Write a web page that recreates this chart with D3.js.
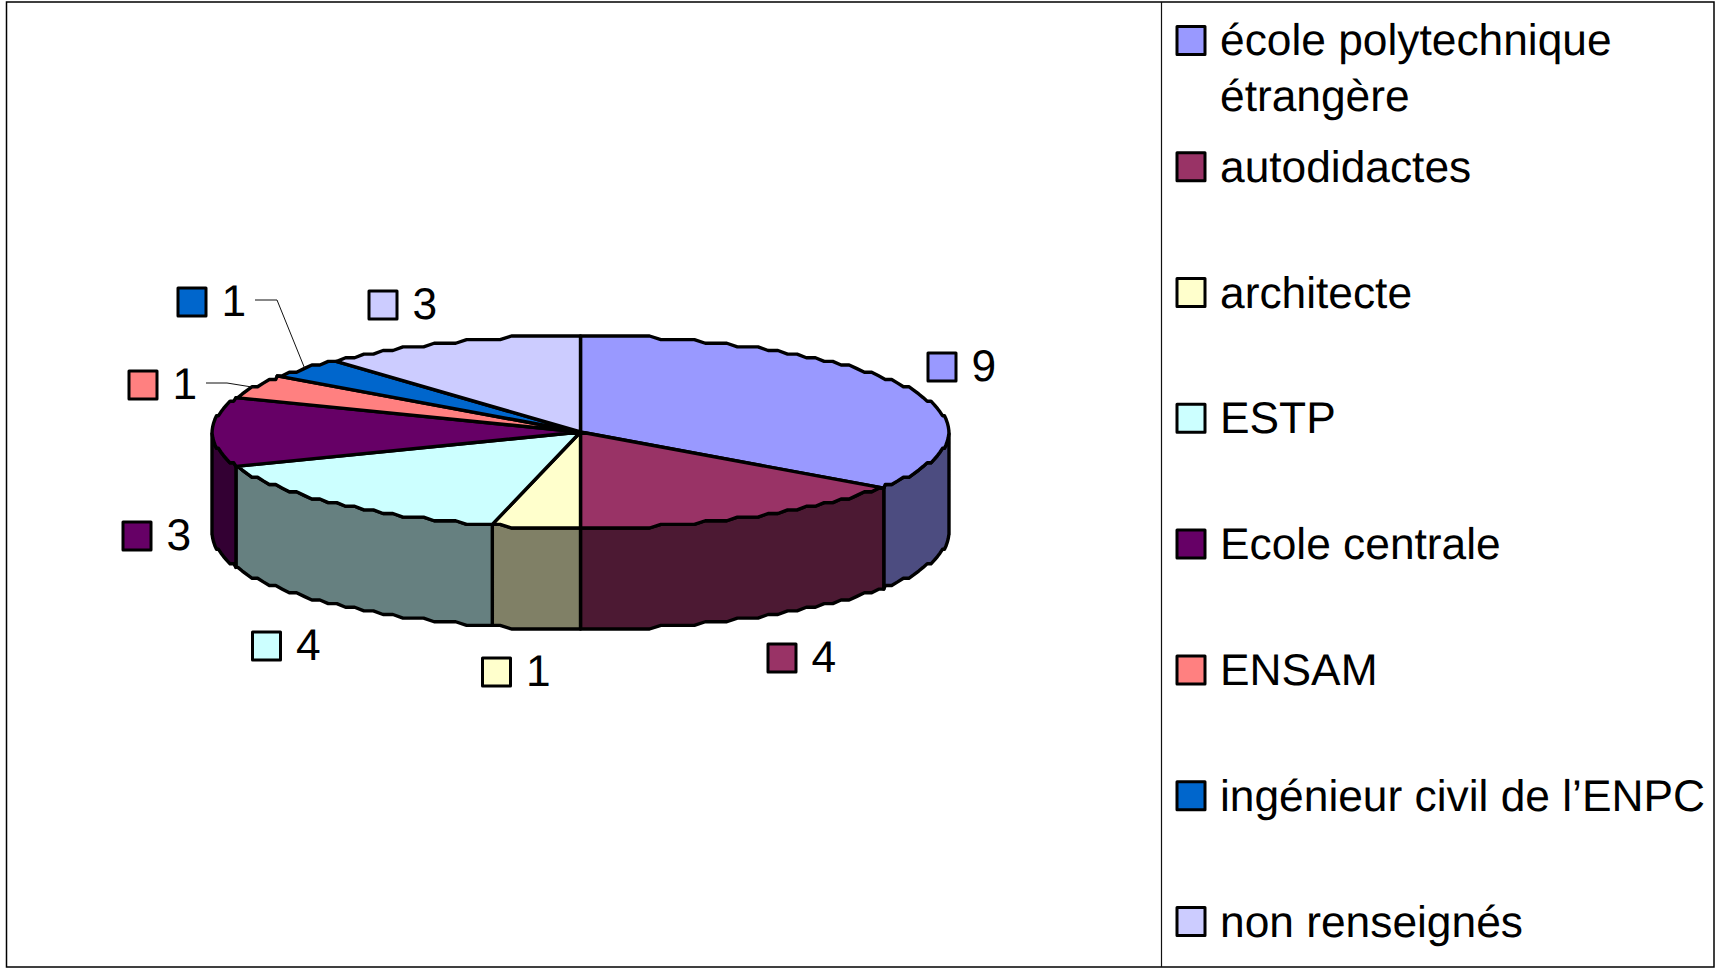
<!DOCTYPE html>
<html>
<head>
<meta charset="utf-8">
<script src="https://cdn.jsdelivr.net/npm/d3@7"></script>
<style>
html, body { margin: 0; padding: 0; background: #fff; overflow: hidden; }
text { font-family: "Liberation Sans", Arial, sans-serif; font-size: 44.3px; fill: #000; text-rendering: geometricPrecision; }
</style>
</head>
<body>
<svg id="chart" width="1724" height="969"></svg>
<script>
const categories = [
    ["école polytechnique", "étrangère"],
    ["autodidactes"],
    ["architecte"],
    ["ESTP"],
    ["Ecole centrale"],
    ["ENSAM"],
    ["ingénieur civil de l’ENPC"],
    ["non renseignés"]
];
const counts = [9, 4, 1, 4, 3, 1, 1, 3];
const topColors = ["#9999ff", "#993366", "#ffffcc", "#ccffff", "#660066", "#ff8080", "#0066cc", "#ccccff"];
const sideColors = ["#4c4c80", "#4c1933", "#808066", "#668080", "#330033", "#804040", "#003366", "#666680"];

const graph = d3.select("#chart");

// pie geometry
const cx = 580.5, cy = 432, rx = 368.5, ry = 96, depth = 101;
const stepY = 2 * ry / 53;
const stepA = 1.8 * Math.PI / 180;

// outer edge is a bit jagged in the original, so snap y to a coarse grid
function rim(a, dy) {
    const top = cy - ry;
    const y = cy - Math.cos(a) * ry;
    return [cx + Math.sin(a) * rx, top + Math.round((y - top) / stepY) * stepY + dy];
}

function rimPoints(a0, a1, dy) {
    const pts = [rim(a0, dy)];
    let k = Math.floor(a0 / stepA) + 1;
    while (k * stepA < a1) {
        pts.push(rim(k * stepA, dy));
        k++;
    }
    pts.push(rim(a1, dy));
    return pts;
}

const line = d3.line().curve(d3.curveLinear);
const slices = d3.pie().sort(null).startAngle(0).endAngle(2 * Math.PI)(counts);

function drawFrame() {
    graph.append("rect")
        .attr("x", 6.5)
        .attr("y", 2)
        .attr("width", 1707.5)
        .attr("height", 965)
        .attr("fill", "none")
        .attr("stroke", "#000")
        .attr("stroke-width", 1.5);
    graph.append("line")
        .attr("x1", 1161.5)
        .attr("y1", 2)
        .attr("x2", 1161.5)
        .attr("y2", 967)
        .attr("stroke", "#111")
        .attr("stroke-width", 1.2);
}

function drawPie() {
    // only the front half of the wall shows
    const minA = Math.PI / 2, maxA = 3 * Math.PI / 2;
    const walls = slices.filter(d => d.endAngle > minA && d.startAngle < maxA);
    graph.append("g").selectAll("path")
        .data(walls)
        .join("path")
        .attr("d", d => {
            const a0 = Math.max(d.startAngle, minA);
            const a1 = Math.min(d.endAngle, maxA);
            const upper = rimPoints(a0, a1, 0);
            const lower = rimPoints(a0, a1, depth).reverse();
            return line(upper.concat(lower)) + "Z";
        })
        .attr("fill", d => sideColors[d.index])
        .attr("stroke", "#000")
        .attr("stroke-width", 3.4)
        .attr("stroke-linejoin", "round");

    graph.append("g").selectAll("path")
        .data(slices)
        .join("path")
        .attr("d", d => line([[cx, cy]].concat(rimPoints(d.startAngle, d.endAngle, 0))) + "Z")
        .attr("fill", d => topColors[d.index])
        .attr("stroke", "#000")
        .attr("stroke-width", 3.4)
        .attr("stroke-linejoin", "round");
}

function drawLabels() {
    // key square left / bottom for each data label
    const spots = [[928, 381], [768, 672], [482.5, 686], [252.5, 660], [123, 550], [129, 399], [178, 316], [369, 319]];
    const g = graph.append("g").selectAll("g")
        .data(slices)
        .join("g")
        .attr("transform", d => `translate(${spots[d.index][0]},${spots[d.index][1]})`);
    g.append("rect")
        .attr("x", 0)
        .attr("y", -28)
        .attr("width", 28)
        .attr("height", 28)
        .attr("fill", d => topColors[d.index])
        .attr("stroke", "#000")
        .attr("stroke-width", 3)
        .attr("stroke-linejoin", "round");
    g.append("text")
        .attr("x", 43.5)
        .attr("y", 0)
        .text(d => d.value);

    // leader lines for the two thin slices
    const leaders = [[5, [[206, 383], [227, 383]]], [6, [[255, 300], [277, 300]]]];
    leaders.forEach(([i, start]) => {
        const mid = (slices[i].startAngle + slices[i].endAngle) / 2;
        const end = [cx + Math.sin(mid) * rx, cy - Math.cos(mid) * ry];
        graph.append("path")
            .attr("d", line(start.concat([end])))
            .attr("fill", "none")
            .attr("stroke", "#111")
            .attr("stroke-width", 1);
    });
}

function drawLegend() {
    const rowY = d3.scaleLinear().domain([1, 7]).range([166.7, 921.5]);
    const rows = graph.append("g").selectAll("g")
        .data(categories)
        .join("g")
        .attr("transform", (d, i) => `translate(1176,${i === 0 ? 40.4 : rowY(i)})`);
    rows.append("rect")
        .attr("x", 1)
        .attr("y", -14)
        .attr("width", 28)
        .attr("height", 28)
        .attr("fill", (d, i) => topColors[i])
        .attr("stroke", "#000")
        .attr("stroke-width", 3)
        .attr("stroke-linejoin", "round");
    rows.selectAll("text")
        .data(d => d)
        .join("text")
        .attr("x", 44)
        .attr("y", (d, i) => 15 + i * 55.3)
        .text(d => d);
}

drawFrame();
drawPie();
drawLabels();
drawLegend();
</script>
</body>
</html>
